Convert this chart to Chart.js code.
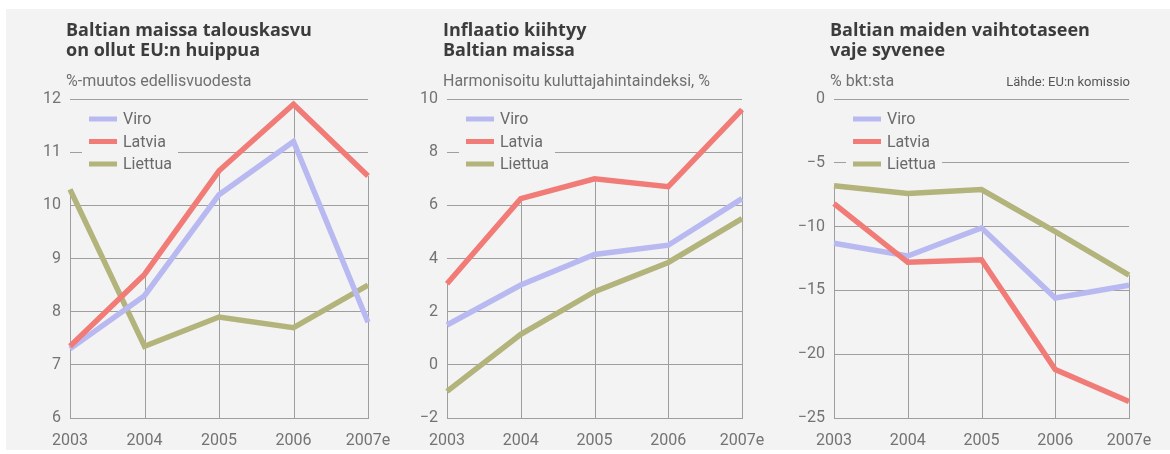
<!DOCTYPE html>
<html>
<head>
<meta charset="utf-8">
<script src="https://cdn.jsdelivr.net/npm/chart.js@4/dist/chart.umd.min.js"></script>
<style>
  html, body { margin: 0; background: #fff; }
  #panel { position: absolute; left: 6px; top: 9px; width: 1164px; height: 441px; background: #f3f3f3; }
  canvas { position: absolute; top: 0; }
</style>
</head>
<body>
<div id="panel"></div>
<canvas id="growth" width="400" height="454" style="left:0px"></canvas>
<canvas id="inflation" width="390" height="454" style="left:390px"></canvas>
<canvas id="balance" width="390" height="454" style="left:780px"></canvas>
<script>
// data
const years = ['2003', '2004', '2005', '2006', '2007e'];
const countries = ['Viro', 'Latvia', 'Liettua'];

const growthViro = [7.3, 8.3, 10.2, 11.2, 7.8];
const growthLatvia = [7.35, 8.7, 10.65, 11.9, 10.55];
const growthLiettua = [10.3, 7.35, 7.9, 7.7, 8.5];

const inflViro = [1.5, 3.0, 4.15, 4.5, 6.25];
const inflLatvia = [3.05, 6.25, 7.0, 6.7, 9.6];
const inflLiettua = [-1.0, 1.15, 2.75, 3.85, 5.5];

const balanceViro = [-11.3, -12.3, -10.1, -15.6, -14.6];
const balanceLatvia = [-8.2, -12.8, -12.6, -21.2, -23.7];
const balanceLiettua = [-6.8, -7.4, -7.1, -10.4, -13.8];

const colors = ['#b9b9f1', '#f17c77', '#b3b37c'];
const GRID = '#9e9e9e';
const BG = '#f3f3f3';

Chart.defaults.font.family = 'Roboto';
Chart.defaults.color = '#737373';

// vertical lines go from the highest line down to the x axis
const dropLines = {
  id: 'dropLines',
  beforeDatasetsDraw(chart) {
    const { ctx, chartArea, scales } = chart;
    ctx.save();
    ctx.strokeStyle = GRID;
    ctx.lineWidth = 1;
    chart.data.labels.forEach((lab, i) => {
      const top = Math.max(...chart.data.datasets.map(d => d.data[i]));
      const x = Math.round(scales.x.getPixelForValue(i)) + 0.5;
      ctx.beginPath();
      ctx.moveTo(x, scales.y.getPixelForValue(top));
      ctx.lineTo(x, chartArea.bottom);
      ctx.stroke();
    });
    ctx.restore();
  }
};

// legend sits inside the plot, on a patch of background over the gridlines
const boxLegend = {
  id: 'boxLegend',
  beforeDatasetsDraw(chart) {
    const { ctx, chartArea } = chart;
    const x0 = chartArea.left + 19;
    const tx = chartArea.left + 53;
    ctx.save();
    ctx.font = '16px Roboto';
    const w = Math.max(...chart.data.datasets.map(d => ctx.measureText(d.label).width));
    ctx.fillStyle = BG;
    ctx.fillRect(chartArea.left + 12, chartArea.top + 6, tx + w + 6 - (chartArea.left + 12), 70);
    chart.data.datasets.forEach((d, i) => {
      const y = chartArea.top + 20 + i * 22.5;
      ctx.strokeStyle = d.borderColor;
      ctx.lineWidth = 5;
      ctx.beginPath();
      ctx.moveTo(x0, y);
      ctx.lineTo(x0 + 28, y);
      ctx.stroke();
      ctx.fillStyle = '#6a6a6a';
      ctx.textBaseline = 'middle';
      ctx.fillText(d.label, tx, y + 1);
    });
    ctx.restore();
  }
};

const header = {
  id: 'header',
  afterDraw(chart, args, opts) {
    const { ctx, chartArea } = chart;
    const x = chartArea.left - 4;
    ctx.save();
    ctx.fillStyle = '#3c3c3c';
    ctx.font = 'bold 18px "Open Sans"';
    opts.lines.forEach((t, i) => ctx.fillText(t, x, 36 + i * 20));
    ctx.fillStyle = '#707070';
    ctx.font = '16px Roboto';
    ctx.fillText(opts.sub, x, 86);
    if (opts.note) {
      ctx.font = '13px Roboto';
      ctx.fillStyle = '#555';
      ctx.textAlign = 'right';
      ctx.fillText(opts.note, chartArea.right + 1, 86);
    }
    ctx.restore();
  }
};

function makeChart(id, axisWidth, padRight, yMin, yMax, step, series, head) {
  const order = [2, 1, 3];
  return new Chart(document.getElementById(id), {
    type: 'line',
    data: {
      labels: years,
      datasets: series.map((s, i) => ({
        label: countries[i],
        data: s,
        borderColor: colors[i],
        borderWidth: 5.5,
        pointRadius: 0,
        tension: 0,
        order: order[i]
      }))
    },
    options: {
      responsive: false,
      animation: false,
      devicePixelRatio: 1,
      layout: { padding: { left: 0, right: padRight, top: 99, bottom: 0 } },
      plugins: {
        legend: { display: false },
        tooltip: { enabled: false },
        header: head
      },
      scales: {
        x: {
          offset: false,
          grid: { display: false },
          border: { display: true, color: GRID, width: 1 },
          ticks: { font: { size: 16 }, padding: 5, maxRotation: 0 },
          afterFit: s => { s.height = 36; }
        },
        y: {
          min: yMin,
          max: yMax,
          grid: { color: GRID, lineWidth: 1, drawTicks: false },
          border: { display: false },
          ticks: {
            stepSize: step,
            padding: 9,
            font: { size: 16 },
            callback: v => String(v).replace('-', '\u2212')
          },
          afterFit: s => { s.width = axisWidth; }
        }
      }
    },
    plugins: [dropLines, boxLegend, header]
  });
}

makeChart('growth', 70, 32, 6, 12, 1, [growthViro, growthLatvia, growthLiettua], {
  lines: ['Baltian maissa talouskasvu', 'on ollut EU:n huippua'],
  sub: '%-muutos edellisvuodesta'
});
makeChart('inflation', 57, 38, -2, 10, 2, [inflViro, inflLatvia, inflLiettua], {
  lines: ['Inflaatio kiihtyy', 'Baltian maissa'],
  sub: 'Harmonisoitu kuluttajahintaindeksi, %'
});
makeChart('balance', 54, 41, -25, 0, 5, [balanceViro, balanceLatvia, balanceLiettua], {
  lines: ['Baltian maiden vaihtotaseen', 'vaje syvenee'],
  sub: '% bkt:sta',
  note: 'Lähde: EU:n komissio'
});
</script>
</body>
</html>
